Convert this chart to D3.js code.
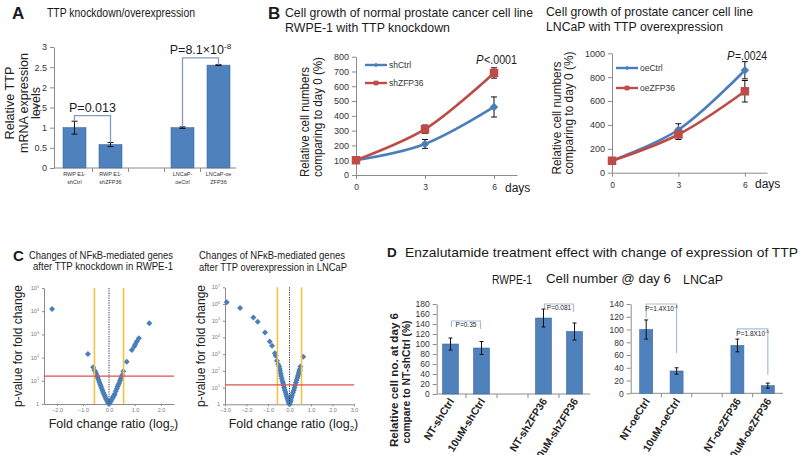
<!DOCTYPE html>
<html><head><meta charset="utf-8">
<script src="https://cdn.jsdelivr.net/npm/d3@7"></script>
<style>
body{margin:0;background:#fff}
svg{display:block}
</style></head><body>
<svg id="c" width="800" height="455"></svg>
<script>
// ---------- DATA ----------
// Panel A
const aCategories = [["RWP E1-","shCtrl"],["RWP E1-","shZFP36"],["",""],["LNCaP-","oeCtrl"],["LNCaP-oe","ZFP36"]];
const aValues = [1.0, 0.58, null, 1.0, 2.55];
const aErrors = [0.16, 0.05, null, 0.02, 0.01];
const aTicks = [0, 0.5, 1, 1.5, 2, 2.5, 3];
const aBrackets = [
  {from:0, to:1, top:1.3, leftEnd:1.16, rightEnd:0.63, label:"P=0.013", sup:""},
  {from:3, to:4, top:2.73, leftEnd:1.02, rightEnd:2.56, label:"P=8.1×10", sup:"-8"}
];
// Panel B
const days = [0, 3, 6];
const dayTicks = [0, 3, 6];
const shCtrl = [100, 210, 460];
const shCtrlErr = [4, 30, 68];
const shZFP36 = [100, 310, 690];
const shZFP36Err = [4, 28, 35];
const oeCtrl = [100, 360, 858];
const oeCtrlErr = [4, 50, 72];
const oeZFP36 = [100, 320, 682];
const oeZFP36Err = [4, 42, 90];
const bLeftTicks = [0,100,200,300,400,500,600,700,800];
const bRightTicks = [0,200,400,600,800,1000];
// Panel C (fold change log2, log10 of p-value scale)
const cLeftPoints = [
  [-2.19,4.09],[-0.81,2.16],[-0.61,1.58],[-0.56,1.45],
  [-0.52,1.38],[-0.49,1.30],[-0.46,1.21],[-0.43,1.12],[-0.40,1.03],[-0.37,0.94],[-0.34,0.85],[-0.31,0.76],
  [-0.28,0.67],[-0.25,0.58],[-0.22,0.50],[-0.19,0.42],[-0.16,0.34],[-0.13,0.26],[-0.10,0.19],[-0.07,0.13],
  [-0.04,0.07],[-0.02,0.03],[0,0.0],
  [0.02,0.04],[0.04,0.08],[0.07,0.13],[0.10,0.19],[0.13,0.25],[0.16,0.31],[0.19,0.37],[0.22,0.43],
  [0.26,0.55],[0.30,0.66],[0.33,0.75],[0.36,0.83],[0.39,0.91],[0.42,1.00],[0.45,1.08],[0.48,1.16],[0.51,1.25],
  [0.55,1.41],[0.68,1.82],[0.88,2.33],[0.97,2.48],[1.01,2.58],[1.07,2.69],[1.15,2.83],[1.55,3.48]
];
const cRightPoints = [
  [-2.92,6.10],[-2.30,5.76],[-1.68,5.20],[-1.48,4.94],[-1.14,4.30],[-0.92,3.76],[-0.81,3.50],
  [-0.68,3.06],[-0.64,2.90],[-0.58,2.60],[-0.53,2.40],
  [-0.48,2.26],[-0.46,2.13],[-0.44,2.00],[-0.41,1.85],[-0.39,1.70],[-0.36,1.55],[-0.33,1.40],[-0.30,1.27],
  [-0.28,1.14],[-0.25,1.00],[-0.22,0.86],[-0.19,0.73],[-0.16,0.60],[-0.13,0.47],[-0.09,0.34],[-0.07,0.25],
  [-0.05,0.16],[-0.02,0.07],[0,0.0],
  [0.02,0.09],[0.04,0.17],[0.06,0.26],[0.09,0.40],[0.12,0.54],[0.16,0.69],[0.20,0.84],[0.23,0.99],
  [0.26,1.14],[0.30,1.30],[0.33,1.46],[0.36,1.58],[0.39,1.70],[0.42,1.80],[0.44,1.90],[0.46,2.00],
  [0.48,2.10],[0.51,2.26],[0.64,2.84]
];
const cLeftXTicks = [-2,-1,0,1,2];
const cRightXTicks = [-3,-2,-1,0,1,2,3];
// Panel D
const dLeftCats = ["NT-shCtrl","10uM-shCtrl","","NT-shZFP36","10uM-shZFP36"];
const dLeftVals = [100, 92, null, 152, 125];
const dLeftErr = [12, 13, null, 18, 17];
const dLeftTicks = [0,20,40,60,80,100,120,140,160,180];
const dLeftBrackets = [
  {from:0, to:1, top:146, leftEnd:134, rightEnd:130, label:"P=0.35", sup:""},
  {from:3, to:4, top:180, leftEnd:172, rightEnd:164, label:"P=0.081", sup:""}
];
const dRightCats = ["NT-oeCtrl","10uM-oeCtrl","","NT-oeZFP36","10uM-oeZFP36"];
const dRightVals = [100, 35, null, 75, 12];
const dRightErr = [15, 5, null, 10, 4];
const dRightTicks = [0,20,40,60,80,100,120,140];
const dRightBrackets = [
  {from:0, to:1, top:140, leftEnd:118, rightEnd:63, label:"P=1.4X10", sup:"-4"},
  {from:3, to:4, top:101, leftEnd:95, rightEnd:29, label:"P=1.8X10", sup:"-5"}
];

// ---------- DRAWING ----------
const FONT = '"Liberation Sans", Arial, sans-serif';
const TXT = "#1a1a1a";
const AXIS = "#8c8c8c";
const BAR = "#4f81bd", BAR_STROKE = "#3d6a9e";
const BLUE = "#4a7ebb", RED = "#be4b48";
const svg = d3.select("#c").attr("font-family", FONT);
svg.append("rect").attr("width",800).attr("height",455).attr("fill","#fff");

function text(x, y, s, o = {}) {
  const t = svg.append("text").attr("x", x).attr("y", y).text(s)
    .attr("font-size", o.size || 12).attr("fill", o.fill || TXT)
    .attr("text-anchor", o.anchor || "start");
  if (o.weight) t.attr("font-weight", o.weight);
  if (o.style) t.attr("font-style", o.style);
  if (o.len) t.attr("textLength", o.len).attr("lengthAdjust", "spacingAndGlyphs");
  if (o.central) t.attr("dominant-baseline", "central");
  if (o.rotate) t.attr("transform", `rotate(${o.rotate},${x},${y})`);
  return t;
}
function supText(x, y, base, sup, o = {}) {
  const t = svg.append("text").attr("x", x).attr("y", y)
    .attr("font-size", o.size || 12).attr("fill", o.fill || TXT)
    .attr("text-anchor", o.anchor || "middle");
  t.append("tspan").text(base);
  if (sup) t.append("tspan").text(sup).attr("font-size", (o.size || 12) * 0.65).attr("dy", -(o.size || 12) * 0.4);
  return t;
}
function axisStyle(g, size, color) {
  g.attr("font-family", FONT).attr("font-size", size);
  g.select(".domain").attr("stroke", AXIS);
  g.selectAll(".tick line").attr("stroke", AXIS);
  g.selectAll(".tick text").attr("fill", color || "#333");
}
function errorBar(cx, yTop, yBot, cap) {
  svg.append("line").attr("x1", cx).attr("x2", cx).attr("y1", yTop).attr("y2", yBot).attr("stroke", "#111").attr("stroke-width", 1);
  [yTop, yBot].forEach(yy => svg.append("line").attr("x1", cx - cap/2).attr("x2", cx + cap/2).attr("y1", yy).attr("y2", yy).attr("stroke", "#111").attr("stroke-width", 1));
}

// bar chart helper
function barChart(cfg) {
  const y = d3.scaleLinear().domain(cfg.yDomain).range(cfg.yRange);
  const x = d3.scaleBand().domain(d3.range(cfg.n)).range(cfg.xRange);
  const gy = svg.append("g").attr("transform", `translate(${cfg.axisX},0)`)
    .call(d3.axisLeft(y).tickValues(cfg.ticks).tickSize(4).tickPadding(cfg.tickPad || 3).tickSizeOuter(0).tickFormat(d => String(d)));
  axisStyle(gy, cfg.tickSize, "#333");
  svg.append("line").attr("x1", cfg.axisX).attr("x2", cfg.xRange[1]).attr("y1", y(0)).attr("y2", y(0)).attr("stroke", AXIS);
  d3.range(1, cfg.n).forEach(i => {
    const bx = x(i);
    svg.append("line").attr("x1", bx).attr("x2", bx).attr("y1", y(0)).attr("y2", y(0) + 4).attr("stroke", AXIS);
  });
  const cx = i => x(i) + x.bandwidth() / 2;
  cfg.values.forEach((v, i) => {
    if (v == null) return;
    svg.append("rect").attr("x", cx(i) - cfg.barW / 2).attr("y", y(v)).attr("width", cfg.barW).attr("height", y(0) - y(v))
      .attr("fill", BAR).attr("stroke", BAR_STROKE).attr("stroke-width", 0.6);
    errorBar(cx(i), y(v + cfg.errors[i]), y(v - cfg.errors[i]), cfg.cap);
  });
  (cfg.brackets || []).forEach(b => {
    const x1 = cx(b.from) + (cfg.bIn || 0), x2 = cx(b.to) - (cfg.bIn || 0);
    svg.append("path").attr("d", `M${x1},${y(b.leftEnd)}V${y(b.top)}H${x2}V${y(b.rightEnd)}`)
      .attr("fill", "none").attr("stroke", cfg.bColor).attr("stroke-width", cfg.bWidth || 1.2);
    supText((x1 + x2) / 2, y(b.top) + cfg.bTextDy, b.label, b.sup, {size: cfg.bSize, fill: cfg.bTextColor || TXT});
  });
  return {x, y, cx};
}

// ===== Panel A =====
text(12, 19, "A", {size: 17, weight: "bold"});
text(47, 17, "TTP knockdown/overexpression", {size: 13, len: 148});
const A = barChart({
  n: aCategories.length, yDomain: [0, 3], yRange: [168, 47], xRange: [56.5, 236.5], axisX: 54,
  ticks: aTicks, tickSize: 9, values: aValues, errors: aErrors, barW: 23, cap: 6,
  brackets: aBrackets, bColor: "#7f9cc0", bTextDy: -4, bSize: 12.5, bWidth: 1.3
});
aCategories.forEach((c, i) => {
  const cx = A.x(i) + A.x.bandwidth() / 2;
  text(cx, 176, c[0], {size: 5.5, anchor: "middle", fill: "#333"});
  text(cx, 184, c[1], {size: 5.5, anchor: "middle", fill: "#333"});
});
[["Relative  TTP", 10, 73], ["mRNA expression", 24, 100], ["levels", 36, 32]].forEach(([s, xx, l]) =>
  text(xx, 103, s, {size: 12.5, anchor: "middle", central: true, rotate: -90, len: l, fill: "#222"}));

// ===== Panel B =====
function growth(cfg) {
  const x = d3.scaleLinear().domain([0, 7]).range(cfg.xRange);
  const y = d3.scaleLinear().domain([0, cfg.yMax]).range(cfg.yRange);
  const gy = svg.append("g").attr("transform", `translate(${cfg.xRange[0]},0)`)
    .call(d3.axisLeft(y).tickValues(cfg.ticks).tickSize(4).tickSizeOuter(0).tickPadding(3).tickFormat(d3.format("d")));
  axisStyle(gy, 9, "#333");
  const gx = svg.append("g").attr("transform", `translate(0,${cfg.yRange[0]})`)
    .call(d3.axisBottom(x).tickValues(dayTicks).tickSize(4).tickSizeOuter(0).tickPadding(5).tickFormat(d3.format("d")));
  axisStyle(gx, 8.5, "#333");
  const line = d3.line().x((d, i) => x(days[i])).y(d => y(d)).curve(d3.curveCatmullRom.alpha(0.5));
  cfg.series.forEach(s => {
    svg.append("path").attr("d", line(s.values)).attr("fill", "none").attr("stroke", s.color).attr("stroke-width", 2.6);
  });
  cfg.series.forEach(s => {
    s.values.forEach((v, i) => errorBar(x(days[i]), y(v + s.err[i]), y(v - s.err[i]), 6));
  });
  cfg.series.forEach(s => {
    s.values.forEach((v, i) => marker(x(days[i]), y(v), s));
  });
  cfg.series.forEach((s, k) => {
    const ly = cfg.legendY[k];
    svg.append("line").attr("x1", cfg.legendX).attr("x2", cfg.legendX + 22).attr("y1", ly).attr("y2", ly).attr("stroke", s.color).attr("stroke-width", 2.4);
    marker(cfg.legendX + 11, ly, s, 0.55);
    text(cfg.legendX + 24, ly + 3, s.name, {size: 8.5, fill: "#333"});
  });
  text(cfg.daysX, cfg.daysY, "days", {size: 12});
  text(cfg.pX, cfg.pY, "P", {size: 13, style: "italic", len: 7.5});
  text(cfg.pX + 8, cfg.pY, cfg.pText, {size: 13, len: cfg.pLen - 8});
  cfg.yTitles.forEach(t => text(t[1], t[2], t[0], {size: 12.5, anchor: "middle", central: true, rotate: -90, len: t[3], fill: "#222"}));
}
function marker(cx, cy, s, k = 1) {
  if (s.shape === "square") {
    const w = 8.5 * k;
    svg.append("rect").attr("x", cx - w/2).attr("y", cy - w/2).attr("width", w).attr("height", w).attr("fill", s.color);
  } else {
    const r = 4.2 * k;
    svg.append("path").attr("d", `M${cx},${cy - r}L${cx + r},${cy}L${cx},${cy + r}L${cx - r},${cy}Z`).attr("fill", s.color);
  }
}
text(268, 19, "B", {size: 17, weight: "bold"});
text(285, 17, "Cell growth of normal prostate cancer cell line", {size: 13.5, len: 248});
text(285, 32, "RWPE-1 with TTP knockdown", {size: 13.5, len: 165});
growth({
  xRange: [356, 517], yRange: [175, 56.7], yMax: 800, ticks: bLeftTicks,
  series: [
    {name: "shCtrl", values: shCtrl, err: shCtrlErr, color: BLUE, shape: "diamond"},
    {name: "shZFP36", values: shZFP36, err: shZFP36Err, color: RED, shape: "square"}
  ],
  legendX: 365, legendY: [65, 83], daysX: 505, daysY: 192,
  pX: 476, pY: 64, pText: "<.0001", pLen: 41,
  yTitles: [["Relative  cell numbers", 305, 122, 110], ["comparing to day 0 (%)", 318, 117, 120]]
});
text(546, 16, "Cell growth of prostate cancer cell line", {size: 13.5, len: 207});
text(546, 31, "LNCaP with TTP overexpression", {size: 13.5, len: 177});
growth({
  xRange: [612, 767], yRange: [172.7, 53.3], yMax: 1000, ticks: bRightTicks,
  series: [
    {name: "oeCtrl", values: oeCtrl, err: oeCtrlErr, color: BLUE, shape: "diamond"},
    {name: "oeZFP36", values: oeZFP36, err: oeZFP36Err, color: RED, shape: "square"}
  ],
  legendX: 616, legendY: [68, 88], daysX: 755, daysY: 188,
  pX: 727, pY: 59.5, pText: "=.0024", pLen: 40,
  yTitles: [["Relative  cell numbers", 557, 118, 113], ["comparing to day 0 (%)", 569, 113, 123]]
});

// ===== Panel C =====
function volcano(cfg) {
  const x = d3.scaleLinear().domain(cfg.xDomain).range(cfg.xRange);
  const y = d3.scaleLinear().domain([0, cfg.yMax]).range(cfg.yRange);
  const gx = svg.append("g").attr("transform", `translate(0,${cfg.yRange[0]})`)
    .call(d3.axisBottom(x).tickValues(cfg.xTicks).tickSize(2).tickSizeOuter(0).tickPadding(2));
  axisStyle(gx, 5.5, "#777");
  const gy = svg.append("g").attr("transform", `translate(${cfg.xRange[0]},0)`)
    .call(d3.axisLeft(y).tickValues(d3.range(cfg.yMax + 1)).tickSize(2).tickSizeOuter(0).tickFormat(""));
  axisStyle(gy, 5.5, "#777");
  d3.range(cfg.yMax + 1).forEach(n => {
    const t = svg.append("text").attr("x", cfg.xRange[0] - 5).attr("y", y(n) + 2).attr("text-anchor", "end")
      .attr("font-size", 5.5).attr("fill", "#777");
    if (n === 0) t.text("1");
    else { t.append("tspan").text("10"); t.append("tspan").text(n).attr("font-size", 3.8).attr("dy", -2.5); }
  });
  const sym = d3.symbol(d3.symbolSquare, 18);
  svg.append("g").selectAll("path").data(cfg.points).join("path")
    .attr("d", sym).attr("fill", BLUE)
    .attr("transform", d => `translate(${x(d[0])},${y(d[1])}) rotate(45)`);
  [-cfg.fc, cfg.fc].forEach(f => svg.append("line").attr("x1", x(f)).attr("x2", x(f)).attr("y1", cfg.yRange[1]).attr("y2", cfg.yRange[0])
    .attr("stroke", "#f2c441").attr("stroke-width", 1.6));
  svg.append("line").attr("x1", x(0)).attr("x2", x(0)).attr("y1", cfg.yRange[1]).attr("y2", cfg.yRange[0])
    .attr("stroke", "#333").attr("stroke-width", 1).attr("stroke-dasharray", "1.2,1.2");
  svg.append("line").attr("x1", cfg.xRange[0]).attr("x2", cfg.xRange[1]).attr("y1", y(cfg.thr)).attr("y2", y(cfg.thr))
    .attr("stroke", "#e0504e").attr("stroke-width", 1.3);
  // axis titles
  text(cfg.yTitleX, 346, "p-value for fold change", {size: 13, anchor: "middle", central: true, rotate: -90, len: 122, fill: "#222"});
  const xt = svg.append("text").attr("x", cfg.xTitleX).attr("y", 428).attr("font-size", 12.5).attr("fill", "#222")
    .attr("text-anchor", "middle");
  xt.append("tspan").text("Fold change ratio (log");
  xt.append("tspan").text("2").attr("font-size", 8).attr("dy", 3);
  xt.append("tspan").text(")").attr("dy", -3);
}
text(13, 261, "C", {size: 15, weight: "bold"});
text(101, 259, "Changes of NFκB-mediated genes", {size: 10.5, anchor: "middle", len: 144});
text(103, 270, "after TTP knockdown in RWPE-1", {size: 10.5, anchor: "middle", len: 140});
volcano({xDomain: [-2.5, 2.5], xRange: [44, 174], yMax: 5, yRange: [404, 288], xTicks: cLeftXTicks,
  points: cLeftPoints, fc: 0.56, thr: 1.2, yTitleX: 17, xTitleX: 113.5});
text(199, 259, "Changes of NFκB-mediated genes", {size: 10.5, len: 146});
text(199, 271, "after TTP overexpression in LNCaP", {size: 10.5, len: 148});
volcano({xDomain: [-3, 3], xRange: [225, 354], yMax: 7, yRange: [404.3, 287.3], xTicks: cRightXTicks,
  points: cRightPoints, fc: 0.56, thr: 1.16, yTitleX: 200, xTitleX: 293.5});

// ===== Panel D =====
text(387, 257, "D", {size: 13.5, weight: "bold"});
text(405, 257, "Enzalutamide treatment effect with change of expression of TTP", {size: 13.5, len: 393});
text(492, 284, "RWPE-1", {size: 13, len: 40});
text(546, 283, "Cell number @ day 6", {size: 13.5, len: 125});
text(683, 284, "LNCaP", {size: 13, len: 40});
function dLabels(chart, cats) {
  cats.forEach((c, i) => {
    if (!c) return;
    const cx = chart.cx(i) + 4, cy = 401;
    text(cx, cy, c, {size: 10.5, weight: "bold", anchor: "end", rotate: -58, fill: "#222"});
  });
}
const DL = barChart({
  n: dLeftCats.length, yDomain: [0, 180], yRange: [394, 304], xRange: [435, 590], axisX: 436.7,
  ticks: dLeftTicks, tickSize: 8.5, values: dLeftVals, errors: dLeftErr, barW: 16, cap: 4,
  brackets: dLeftBrackets, bColor: "#a9bfd8", bTextDy: 6, bSize: 6.5, bWidth: 1.2, bIn: 1
});
dLabels(DL, dLeftCats);
const DR = barChart({
  n: dRightCats.length, yDomain: [0, 140], yRange: [393.3, 304], xRange: [631, 783], axisX: 630.7,
  ticks: dRightTicks, tickSize: 8.5, values: dRightVals, errors: dRightErr, barW: 13, cap: 4,
  brackets: dRightBrackets, bColor: "#a9bfd8", bTextDy: 7, bSize: 6.5, bWidth: 1.2, bIn: 0
});
dLabels(DR, dRightCats);
text(394, 380, "Relative cell no. at day 6", {size: 10, weight: "bold", anchor: "middle", central: true, rotate: -90, len: 134, fill: "#222"});
text(406, 382, "compare to NT-shCtrl (%)", {size: 10, weight: "bold", anchor: "middle", central: true, rotate: -90, len: 123, fill: "#222"});
</script>
</body></html>
